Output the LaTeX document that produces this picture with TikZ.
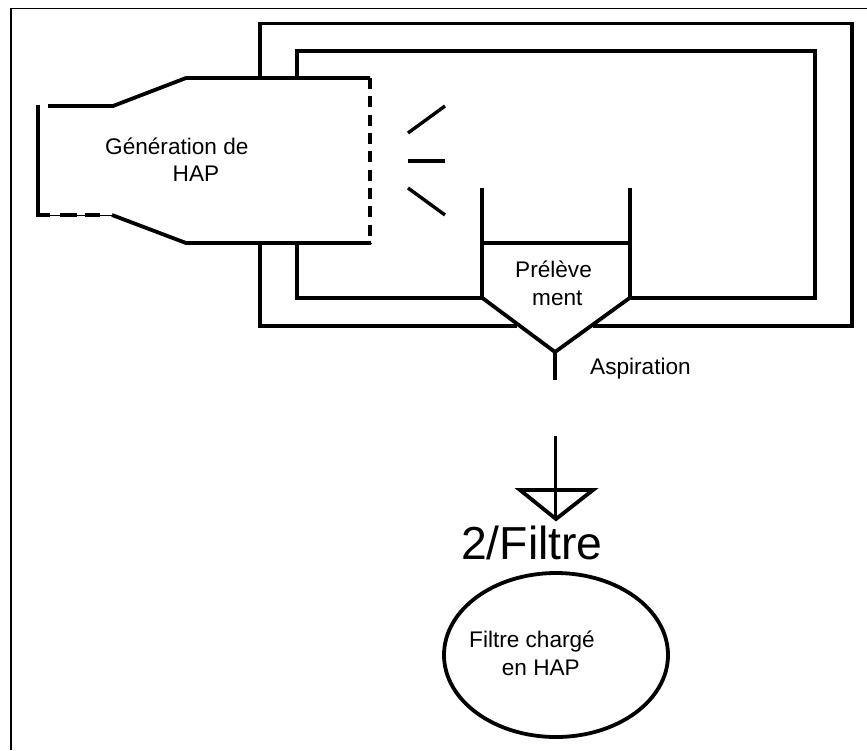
\documentclass[tikz,border=0pt]{standalone}
\usepackage{fontspec}
\setmainfont{Liberation Sans}
\usetikzlibrary{shapes.geometric}
\tikzset{
  wall/.style={line width=3.8pt,line join=miter,line cap=butt},
  thinwall/.style={line width=3.4pt},
  frameline/.style={line width=1.9pt},
  dashwall/.style={line width=3.8pt,dash pattern=on 11pt off 7.33pt},
  lbl/.style={inner sep=0pt,anchor=base west,font=\fontsize{22.6pt}{26pt}\selectfont},
}
\begin{document}
\begin{tikzpicture}[x=1pt,y=-1pt]
\useasboundingbox (0,0) rectangle (867,750);
\fill[white] (0,0) rectangle (867,750);
% outer frame
\coordinate (f1) at (11,750); \coordinate (f2) at (11,8.5); \coordinate (f3) at (867,8.5);
\draw[frameline] (f1) -- (f2) -- (f3);
% enclosure
\draw[wall] (260,78) -- (260,23.5) -- (852,23.5) -- (852,325.7) -- (593,325.7);
\draw[wall] (260,243) -- (260,325.7) -- (517,325.7);
\draw[wall] (297,78) -- (297,51) -- (815,51) -- (815,297.7) -- (631,297.7);
\draw[wall] (297,243) -- (297,297.7) -- (482,297.7);
% generator
\draw[wall] (48,106) -- (113,106) -- (186,78) -- (370,78);
\draw[wall] (38,105) -- (38,215) -- (50,215);
\draw[wall] (112,215) -- (186,243) -- (371,243);
\draw[line width=.6pt] (38,215) -- (112,215);
\draw[wall] (60,215) -- (77,215) (85,215) -- (100,215);
\draw[dashwall] (370,78) -- (370,243);
% rays
\draw[thinwall] (408,133) -- (445,106);
\draw[wall] (408,161) -- (445,161);
\draw[thinwall] (408,188) -- (445,215);
% sampler
\draw[wall] (482,188) -- (482,297.7) -- (555,352) -- (630,297.7) -- (630,188);
\draw[wall] (482,243) -- (630,243);
\draw[wall] (555,352) -- (555,380);
% arrow
\draw[wall] (520,490) -- (593,490) -- (556,519) -- cycle;
\draw[wall] (555.5,436) -- (555.5,519);
% filter
\node[draw,line width=3.8pt,ellipse,minimum width=224pt,minimum height=164pt,inner sep=0pt,outer sep=0pt] (e) at (556,655) {};
% text
\node[lbl] (t1) at (105,154) {Génération de};
\node[lbl] (t2) at (172.5,181.5) {HAP};
\node[lbl] (t3) at (515,277.7) {Prélève};
\node[lbl] (t4) at (532,305) {ment};
\node[lbl] (t5) at (590,374) {Aspiration};
\node[lbl,font=\fontsize{46.3pt}{50pt}\selectfont] (t6) at (461,559) {2/Filtre};
\node[lbl] (t7) at (469,647.7) {Filtre chargé};
\node[lbl] (t8) at (501.7,675.5) {en HAP};
\end{tikzpicture}
\end{document}
